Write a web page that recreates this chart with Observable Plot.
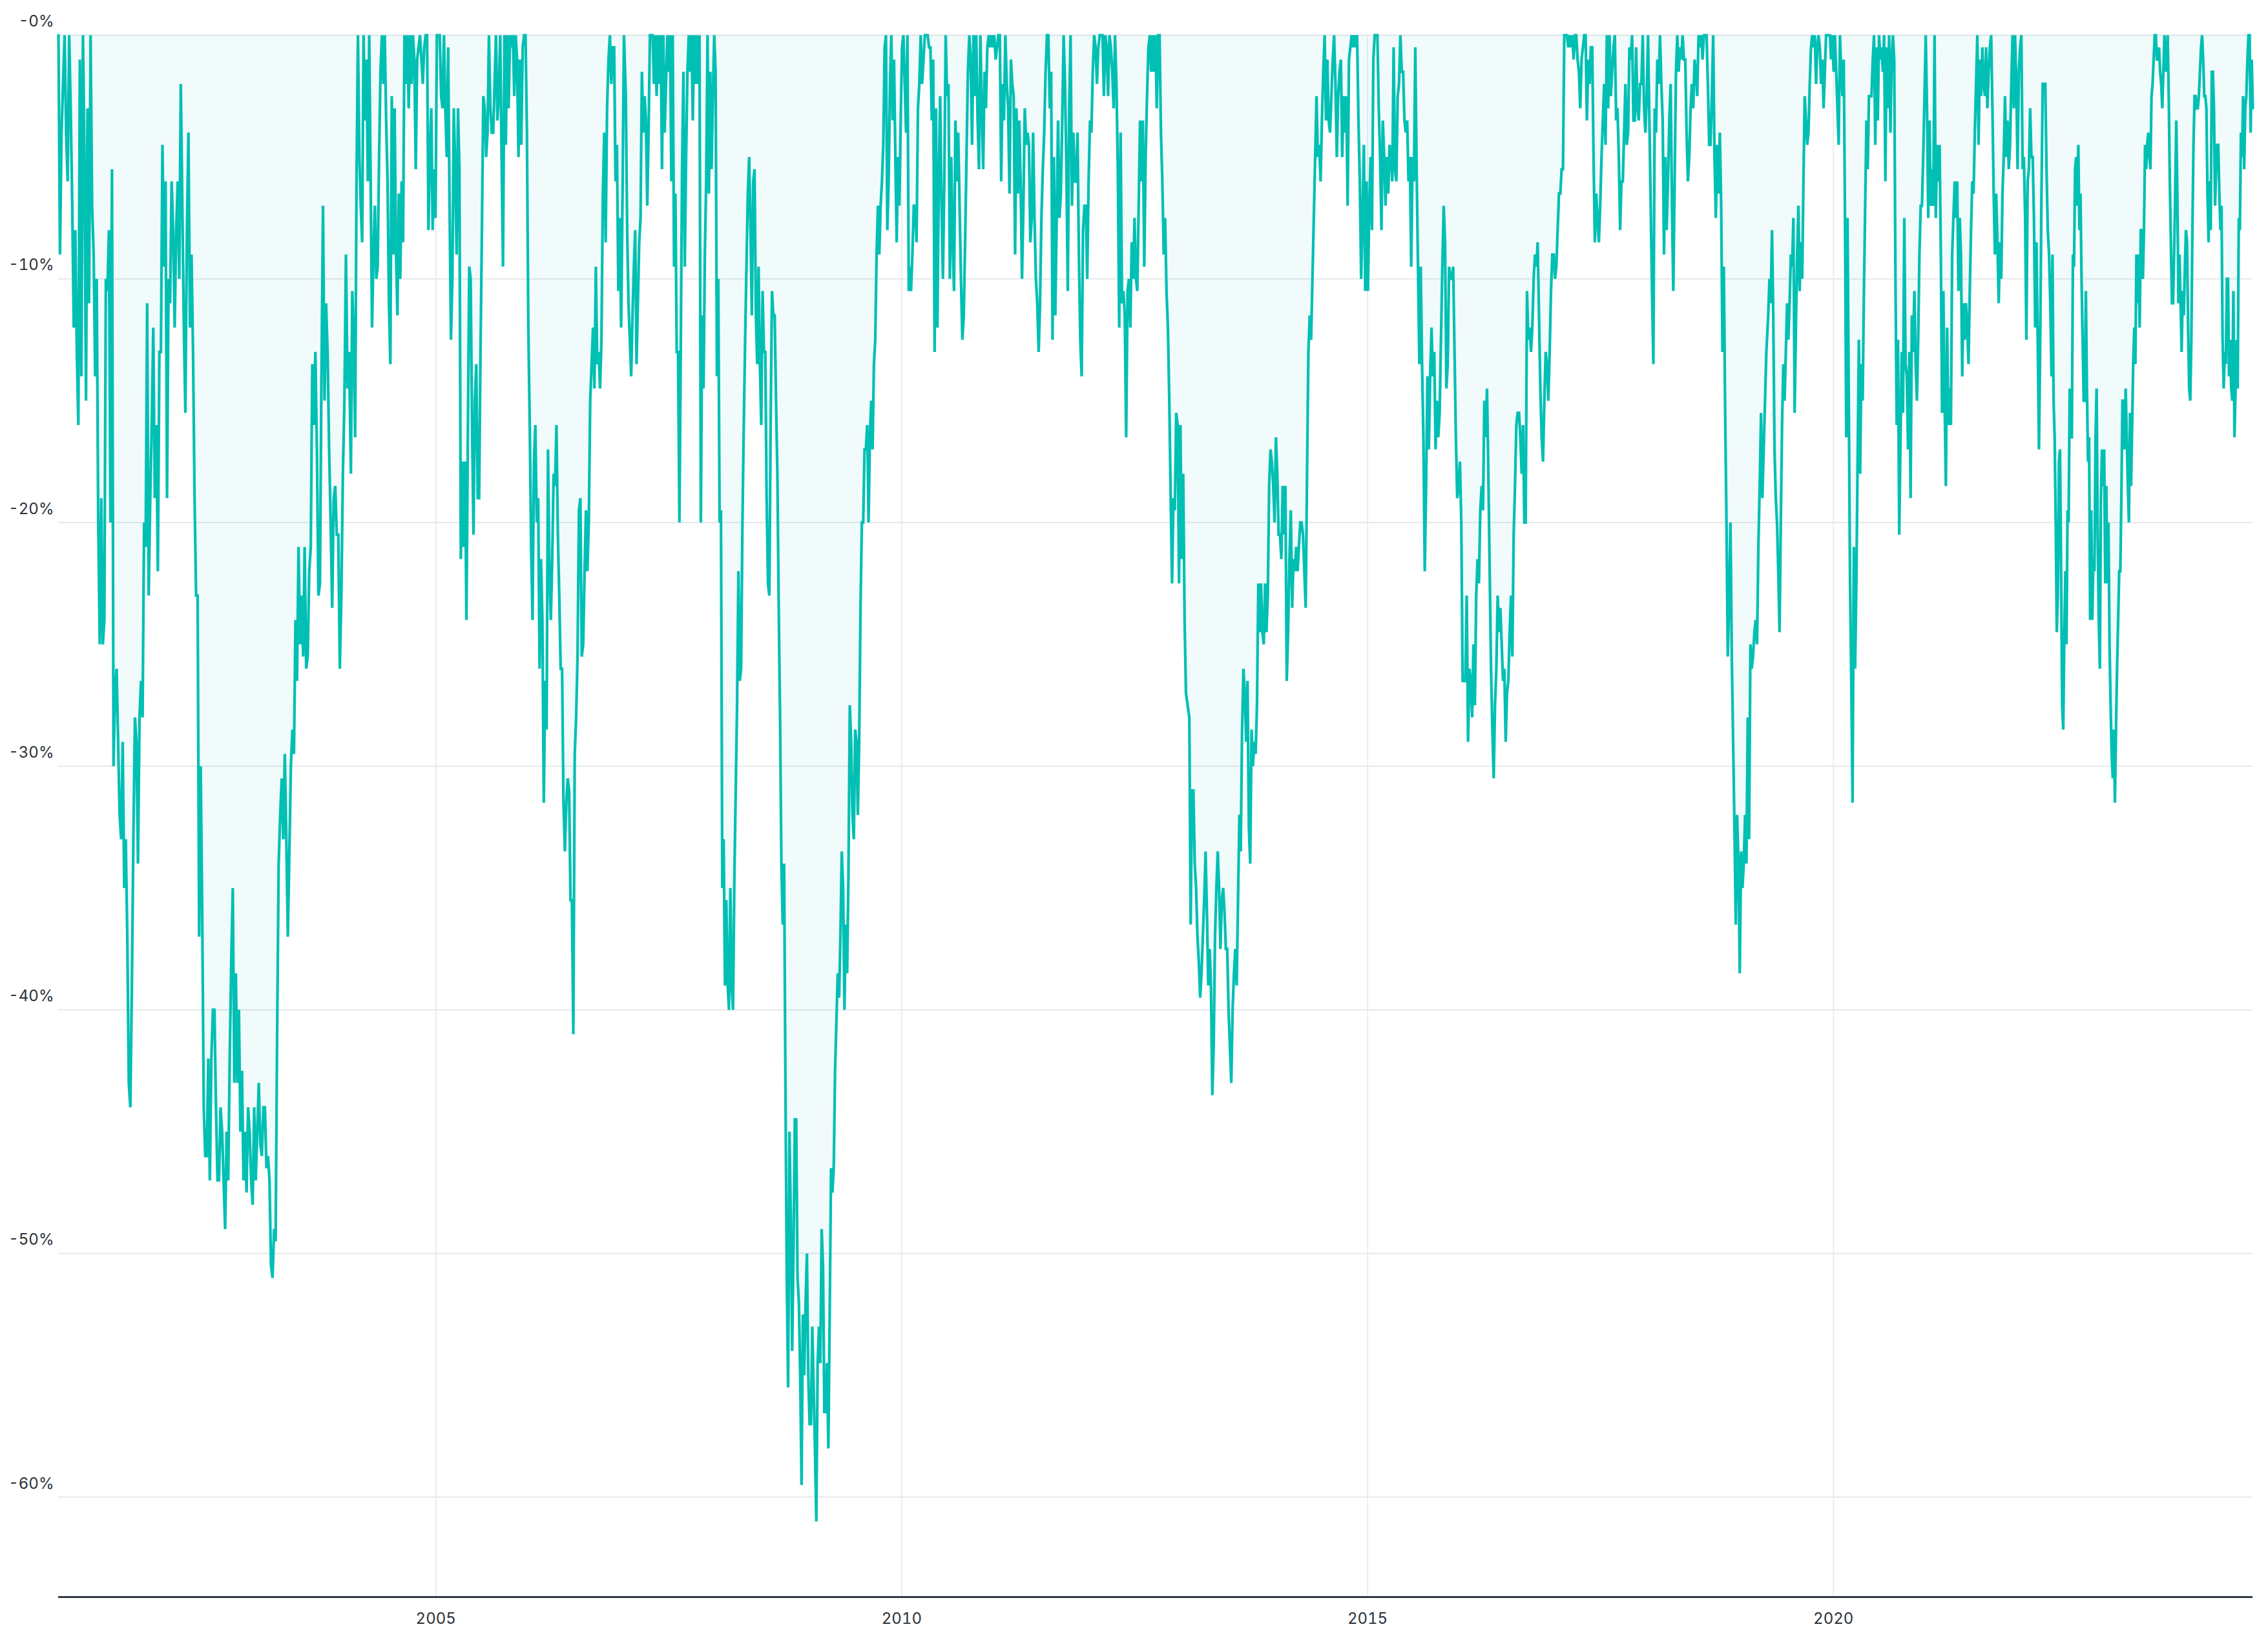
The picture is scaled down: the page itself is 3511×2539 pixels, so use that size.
<!DOCTYPE html>
<html>
<head>
<meta charset="utf-8">
<script src="https://cdn.jsdelivr.net/npm/d3@7"></script>
<script src="https://cdn.jsdelivr.net/npm/@observablehq/plot@0.6"></script>
<style>
  html, body { margin: 0; padding: 0; background: #ffffff; overflow: hidden; }
  #chart svg { display: block; }
</style>
</head>
<body>
<div id="chart"></div>
<script>
// Drawdown (%), in consecutive segments (decimal-year spans)
const dd2001_2004 = [0, -9, -4, -2, 0, -4, -6, 0, -3, -7, -12, -8, -13, -16, -1, -14, 0, -5, -15, -3, -11, 0, -7, -9, -14, -10, -20, -25, -19, -25, -24, -10, -10.5, -8, -20, -5.5, -30, -27, -26, -29, -32, -33, -29, -35, -33, -37, -43, -44, -39, -33, -28, -29, -34, -28, -26.5, -28, -20, -21, -11, -23, -19, -16, -12, -19, -16, -22, -13, -13, -4.5, -9.5, -6, -19, -10, -11, -6, -8, -12, -8, -6, -10, -2, -7, -12, -15.5, -8, -4, -12, -9, -13, -19, -23, -23, -37, -30, -36, -44, -46, -46, -42, -47, -42, -40, -40, -44, -47, -47, -44, -45, -47, -49, -45, -47, -42, -38, -35, -43, -38.5, -43, -40, -45, -42.5, -47, -45, -47.5, -44, -45, -47, -48, -44, -47, -45, -43, -45.5, -46, -44, -44, -46.5, -46, -47, -50.5, -51, -49, -49.5, -41, -34, -32, -30.5, -33, -29.5, -33, -37, -33.5, -30, -28.5, -29.5, -24, -26.5, -21, -25, -23, -25.5, -21, -26, -25.5, -22, -21, -13.5, -16, -13, -17, -23, -22.5, -14, -7, -15, -11, -13, -17, -20, -23.5, -19, -18.5, -20.5, -20.5, -26, -23, -18, -15, -9, -14.5, -13];
const dd2004_2007 = [-18, -10.5, -12.5, -16.5, -6, 0, -5, -7, -8.5, 0, -3.5, -1, -6, 0, -6, -12, -9, -7, -10, -9.5, -5, -1.5, 0, -2, 0, -3.5, -6, -11, -13.5, -2.5, -9, -3, -9, -11.5, -6.5, -10, -6, -8.5, 0, -2, 0, -3, 0, -2, 0, -1, -5.5, -1, -0.5, 0, -1, -2, -0.5, 0, 0, -8, -5, -3, -8, -5.5, -7.5, 0, 0, 0, -2.5, -3, 0, -3, -5, -0.5, -7, -12.5, -10, -3, -5.5, -9, -3, -5.5, -21.5, -17.5, -21, -17.5, -24, -16.5, -9.5, -10, -16, -20.5, -15, -13.5, -19, -19, -13, -8, -2.5, -3, -5, -4, 0, -3, -4, -4, -2, 0, -3.5, -2.5, 0, -5, -9.5, 0, -4.5, 0, -3, 0, -0.5, 0, -2.5, 0, -1, -5, -1, -4.5, -0.5, 0, 0, -4, -12, -16, -21, -24, -17.5, -16, -20, -19, -26, -21.5, -24, -31.5, -26.5, -28.5, -17, -22, -24, -21.5, -18, -18.5, -16, -20.5, -23, -26, -26, -31.5, -33.5, -31.5, -30.5, -31, -35.5, -35.5, -41, -29.5, -28, -25.5, -19.5, -19, -25.5, -25, -22, -19.5, -22, -20, -15, -13.5, -12, -14.5, -9.5, -13.5, -13, -14.5, -12.5, -6.5, -4, -8.5, -3, -1, 0, -2, -0.5, -0.5, -6, -4.5, -10.5, -7.5, -12, -6.5, 0];
const dd2007_2010 = [-2.5, -8, -11, -12.5, -14, -11.5, -9.5, -8, -13.5, -11, -8.5, -7.5, -1.5, -4, -2.5, -3.5, -7, -4, 0, 0, 0, -2, 0, -2.5, 0, -2, 0, -5.5, 0, -4, -2, 0, -1.5, 0, -6, 0, -9.5, -6.5, -13, -13, -20, -13, -5.5, -1.5, -9.5, -5, -1.5, 0, -1.5, 0, -3.5, 0, -2, 0, -2, 0, -20, -11.5, -14.5, -9, -6, 0, -6.5, -1.5, -5.5, -2.5, 0, -1.5, -14, -10, -20, -19.5, -35, -33, -39, -35.5, -39, -40, -35, -39, -40, -34.5, -31, -27.5, -22, -26.5, -26, -20, -16, -12.5, -9.5, -6.5, -5, -8, -11.5, -6, -5.5, -11.5, -13.5, -9.5, -13.5, -16, -10.5, -13, -13, -19, -22.5, -23, -16, -10.5, -11.5, -11.5, -15, -18, -23.5, -28, -34, -36.5, -34, -43, -51, -55.5, -45, -48.5, -54, -50, -44.5, -44.5, -51, -52, -55, -59.5, -52.5, -55, -52, -50, -55, -57, -57, -53, -55.5, -58, -61, -54.5, -53, -54.5, -49, -50.5, -56.5, -56.5, -54.5, -58, -52.5, -46.5, -47.5, -46.5, -42.5, -40.5, -38.5, -39.5, -37, -33.5, -35, -40, -36.5, -38.5, -34.5, -27.5, -29, -32, -33, -28.5, -29, -32, -29, -23.5, -20, -20, -17, -17, -16, -20, -16.5, -15, -17, -13.5, -12.5, -9, -7, -9, -7, -6, -4.5, -0.5, 0, -8, -6, -2, 0, -3.5, -1, -5, -8.5, -5, -7, -3.5, -0.5, 0, -2, -4, 0, -10.5, -9.5];
const dd2010_2013 = [-10.5, -9, -7, -7, -8.5, -3, -2, 0, -2, -1, 0, 0, 0, -0.5, -0.5, -3.5, -1, -13, -3, -12, -6, -2.5, -7, -10, -6, 0, -2.5, -2, -10, -5, -8.5, -10.5, -3.5, -6, -4, -7, -10, -12.5, -11.5, -8.5, -5, -1.5, 0, -1, -4.5, 0, -2.5, 0, -3.5, -5.5, 0, -3, -5.5, -1.5, -3, -0.5, 0, -0.5, 0, -0.5, 0, -1, -0.5, 0, 0, -6, -2, -3.5, 0, -2, -3, -6.5, -1, -2, -2.5, -9, -3, -6.5, -3.5, -6, -10, -7, -3, -4.5, -4, -4.5, -8.5, -7.5, -4, -7.5, -10, -11, -13, -11, -7.5, -5.5, -4, -1.5, 0, 0, -3, -1.5, -12.5, -5, -11.5, -7.5, -3.5, -7.5, -6.5, -3.5, 0, -2, -5.5, -10.5, -3, 0, -7, -4, -6, -6, -4, -9, -12.5, -14, -8, -7, -7, -10, -6, -3.5, -4, -1.5, 0, -0.5, -2, -0.5, 0, 0, 0, -2.5, 0, -0.5, -2.5, 0, -0.5, -1.5, -3, 0, -2, -5.5, -12, -4, -11, -10.5, -11.5, -16.5, -10.5, -10, -12, -8.5, -10, -7.5, -10, -10.5, -7, -3.5, -6, -3.5, -9.5, -5, -2.5, -0.5, 0, -1.5, 0, -1.5, 0, -3, 0, 0, -4, -6, -9, -7.5, -10.5, -12, -15, -19, -22.5, -19, -19.5, -15.5, -16, -22.5, -16, -21.5, -18, -24, -27];
const dd2013_2016 = [-28, -36.5, -31, -31, -34, -35, -37, -38, -39.5, -38.5, -37, -35.5, -33.5, -36, -39, -37.5, -39, -43.5, -41.5, -37, -35, -33.5, -35, -37.5, -35.5, -35, -36, -37.5, -37.5, -40, -41.5, -43, -40, -38.5, -37.5, -39, -35.5, -32, -33.5, -28.5, -26, -27, -29, -26.5, -32.5, -34, -28.5, -30, -29, -29.5, -27.5, -22.5, -24.5, -22.5, -24.5, -25, -22.5, -24.5, -23, -18.5, -17, -17.5, -18.5, -20, -16.5, -18, -20.5, -20.5, -21.5, -18.5, -20.5, -18.5, -26.5, -24.5, -21.5, -19.5, -23.5, -21.5, -22, -21, -22, -21, -20, -20, -20.5, -22, -23.5, -18, -13, -11.5, -12.5, -10, -7.5, -5, -2.5, -5, -4.5, -6, -3.5, -1.5, 0, -3.5, -1, -3.5, -4, -2.5, -1, 0, -2, -5, -2.5, -1.5, -1, -5, -2.5, -4, -2.5, -7, -1, -0.5, 0, -0.5, 0, -0.5, 0, -3.5, -6, -10, -7.5, -4.5, -10.5, -6, -10.5, -7, -5, -8, -1, 0, 0, 0, -3, -5, -8, -3.5, -5, -7, -5, -6.5, -4.5, -5, -6, -0.5, -5.5, -6, -2.5, -2, 0, -1.5, -1.5, -3.5, -4, -3.5, -6, -5, -9.5, -5, -6, -0.5, -5.5, -9.5, -13.5, -9.5, -13.5, -16.5, -22, -18.5, -14, -17, -14, -12, -14, -13, -17, -15, -16.5, -15.5, -12.5, -9.5, -7, -8.5, -14.5, -13.5, -9.5, -10, -10, -9.5, -13, -16.5, -19, -18.5, -17.5, -20, -26.5, -26.5, -26.5, -23, -29, -26, -26.5, -28, -25, -27.5, -23, -21.5, -22.5, -19.5];
const dd2016_2019 = [-18.5, -19.5, -15, -16.5, -14.5, -18, -22, -26, -28.5, -30.5, -27.5, -26, -23, -24.5, -23.5, -25, -26.5, -26, -29, -27, -26.5, -24.5, -23, -25.5, -20.5, -18.5, -16, -15.5, -15.5, -16.5, -18, -16, -20, -20, -10.5, -12.5, -12, -13, -12, -10, -9, -9.5, -8.5, -11.5, -14.5, -16.5, -17.5, -15, -13, -13.5, -15, -13, -10.5, -9, -9, -10, -9.5, -8, -6.5, -6.5, -5.5, -5.5, 0, 0, 0, -0.5, 0, -0.5, 0, -1, 0, 0, -1, -1.5, -3, -1, -0.5, 0, 0, -3.5, -1, -2, -0.5, -0.5, -5, -8.5, -6.5, -7.5, -8.5, -7, -5, -3.5, -2, -4.5, 0, -3, 0, -2.5, -1.5, -0.5, 0, -3.5, -3, -5, -8, -6, -6, -4, -2, -4.5, -4, -0.5, -1, 0, -3.5, -3.5, -0.5, -3, -3.5, -2, -2, 0, -3, -4, -2.5, 0, -3.5, -7, -10.5, -13.5, -3, -4, -1, -2, 0, -2, -3.5, -9, -5, -8, -6, -3.5, -2, -7, -10.5, -6, -1.5, 0, -1.5, -0.5, -1, 0, -1, -1, -4, -6, -5, -3, -2, -3, -1, -1.5, -2.5, 0, -0.5, 0, -1, 0, 0, 0, -2, -4.5, -4.5, -2.5, 0, -5, -7.5, -4.5, -6.5, -4, -7, -13, -9.5, -15.5, -20, -25.5, -23, -20, -25.5, -29, -32.5, -36.5, -32, -34, -38.5, -33.5, -35, -34, -32, -34, -28, -33, -25, -26, -25.5, -24.5, -24, -25, -21, -18.5, -15.5, -19, -17, -15, -13];
const dd2019_2022 = [-11.5, -10, -11, -8, -11.5, -17, -19, -20, -22, -24.5, -20, -16, -13.5, -15, -13, -11, -12.5, -11, -9, -9.5, -7.5, -15.5, -12, -9, -7, -10.5, -8.5, -10, -6, -2.5, -3.5, -4.5, -4, -2, -0.5, 0, -0.5, 0, -2, -0.5, 0, -0.5, -2, -1, -3, -1.5, 0, 0, 0, 0, -1, 0, -1.5, 0, -1.5, -3, -4.5, 0, -1.5, -2.5, -1, -7.5, -16.5, -7.5, -15, -22.5, -26.5, -31.5, -21, -26, -22.5, -17.5, -12.5, -18, -13.5, -15, -10.5, -7, -3.5, -5.5, -2.5, -2.5, -2.5, -1, 0, -4.5, -0.5, -3.5, 0, -1, -0.5, -1.5, 0, -6, -0.5, -3, 0, -4, -1, 0, -1, -10, -16, -12.5, -20.5, -16.5, -13, -15.5, -7.5, -13.5, -14, -17, -13, -19, -11.5, -13, -10.5, -13.5, -15, -12.5, -9, -7, -7, -5, -2.5, 0, -3, -7.5, -3.5, -7, -5.5, -7, 0, -7.5, -4.5, -6, -4.5, -9, -15.5, -10.5, -15, -18.5, -12, -16, -14.5, -16, -9, -7.5, -6, -7.5, -6, -10.5, -7.5, -9, -14, -11, -12.5, -11, -12, -13.5, -10.5, -8, -6, -6.5, -4, -2, 0, -4.5, -1, -2.5, -0.5, -2, -2.5, -0.5, -3, -1.5, -0.5, 0, -3, -6.5, -9, -6.5, -8.5, -11, -8.5, -10, -6.5, -5, -2.5, -5, -3.5, -5.5, -4.5, -2, 0, -3, 0, -2, -5.5, -1.5, -0.5, 0, -5.5, -5, -7.5, -12.5, -6, -5.5, -3, -5, -5, -7.5, -12, -8.5, -12.5, -17, -12.5, -6.5, -2, -2, -2, -5.5, -8, -9, -11, -14];
const dd2022_2024 = [-9, -15, -16.5, -20, -24.5, -23, -17.5, -17, -22, -27.5, -28.5, -24.5, -22, -25, -19.5, -20, -14.5, -16.5, -16.5, -9, -9.5, -5.5, -5, -7, -4.5, -8, -6.5, -10, -12.5, -15, -15, -10.5, -14.5, -17.5, -16.5, -24, -19.5, -24, -21.5, -22, -16.5, -14.5, -20.5, -24, -26, -19, -17, -18.5, -17, -22.5, -18.5, -22.5, -20, -25, -27.5, -29.5, -30.5, -28.5, -31.5, -28.5, -26, -24, -22, -22, -19, -15, -15, -17, -14.5, -16.5, -18.5, -20, -15.5, -18.5, -16, -13.5, -12, -13.5, -9, -11, -9, -12, -8, -8, -10, -8, -4.5, -5.5, -4.5, -4, -5, -5.5, -2.5, -2, -1, 0, 0, -1, -1, -0.5, -1.5, -2, -3, -1.5, 0, -1.5, -1, 0, -2.5, -6, -8.5, -11, -11, -9, -6.5, -3.5, -6.5, -11, -9, -11, -13, -10.5, -11.5, -9.5, -8, -8.5, -12, -14.5, -15, -12.5, -8, -4.5, -2.5, -2.5, -3, -3, -2.5, -1.5, -0.5, 0, -1, -2.5, -2.5, -3, -6.5, -8.5, -6, -8, -1.5, -1.5, -3, -7, -5.5, -4.5, -4.5, -6.5, -8, -7, -12.5, -14.5, -13, -13.5, -10, -10, -14, -12.5, -14.5, -15, -10.5, -16.5, -14.5, -12.5, -14.5, -7.5, -8, -4, -5, -2.5, -5.5, -3, -2.5, -1, 0, 0, -4, -1, -3];

// Time span (decimal years) covered by each segment
const segments = [
  {from: 2000.95, to: 2004.07, values: dd2001_2004},
  {from: 2004.09, to: 2007.02, values: dd2004_2007},
  {from: 2007.04, to: 2010.09, values: dd2007_2010},
  {from: 2010.10, to: 2013.05, values: dd2010_2013},
  {from: 2013.086, to: 2016.21, values: dd2013_2016},
  {from: 2016.225, to: 2019.28, values: dd2016_2019},
  {from: 2019.30, to: 2022.34, values: dd2019_2022},
  {from: 2022.35, to: 2024.50, values: dd2022_2024}
];

const yTicks = [0, -10, -20, -30, -40, -50, -60];
const xTickYears = [2005, 2010, 2015, 2020];

function decYear(y) {
  const yr = Math.floor(y);
  const a = Date.UTC(yr, 0, 1), b = Date.UTC(yr + 1, 0, 1);
  return new Date(a + (y - yr) * (b - a));
}

const data = segments.flatMap(s => s.values.map((v, i) => ({
  date: decYear(s.from + (s.to - s.from) * i / (s.values.length - 1)),
  dd: v
})));

const xTicks = xTickYears.map(y => new Date(Date.UTC(y, 0, 1)));
const yMin = -64.1;
const teal = "#00bfb3";

const chart = Plot.plot({
  width: 3511,
  height: 2539,
  marginLeft: 90,
  marginRight: 24,
  marginTop: 54,
  marginBottom: 67,
  style: {fontFamily: "Inter, 'Noto Sans', sans-serif", fontSize: "24px", color: "#2b3238", background: "#ffffff"},
  x: {type: "utc", domain: [data[0].date, data[data.length - 1].date]},
  y: {domain: [yMin, 0]},
  marks: [
    Plot.gridX(xTicks, {stroke: "#e9edf4", strokeOpacity: 1, strokeWidth: 2}),
    Plot.gridY(yTicks, {stroke: "#e6e8ea", strokeOpacity: 1, strokeWidth: 2}),
    Plot.areaY(data, {x: "date", y: "dd", fill: teal, fillOpacity: 0.055}),
    Plot.line(data, {x: "date", y: "dd", stroke: teal, strokeWidth: 4.2, strokeLinejoin: "miter", strokeMiterlimit: 2}),
    Plot.ruleY([yMin], {stroke: "#2f3a44", strokeWidth: 3}),
    Plot.axisY(yTicks, {
      tickSize: 0, tickPadding: 7, dy: -21,
      tickFormat: d => d === 0 ? "-0%" : `${d}%`,
      label: null, fontSize: 24
    }),
    Plot.axisX(xTicks, {
      tickSize: 0, tickPadding: 24,
      tickFormat: d3.utcFormat("%Y"),
      label: null, fontSize: 24
    })
  ]
});

document.getElementById("chart").appendChild(chart);
</script>
</body>
</html>
